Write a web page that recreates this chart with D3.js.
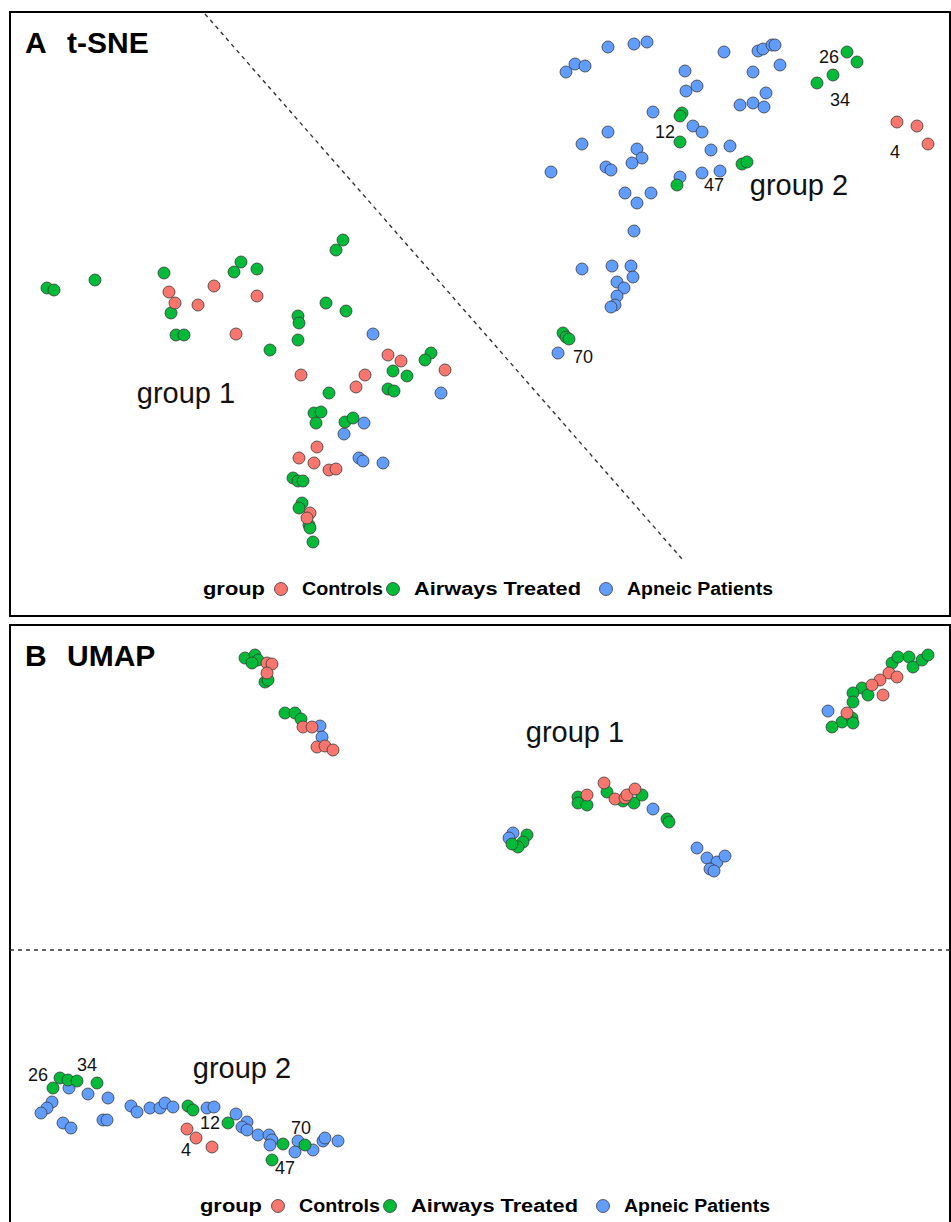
<!DOCTYPE html>
<html>
<head>
<meta charset="utf-8">
<script src="https://cdn.jsdelivr.net/npm/d3@7"></script>
<style>
  body { margin: 0; background: #fff; }
  text { font-family: "Liberation Sans", Arial, sans-serif; }
</style>
</head>
<body>
<div id="chart"></div>
<script>
var width = 951,
    height = 1222;

// groups, legend order
var groups = ["Controls", "Airways Treated", "Apneic Patients"];
var groupColors = ["#F8766D", "#00BA38", "#619CFF"];

// t-SNE embedding (dim1, dim2)
var tsneControls = [[16.9,-29.2],[17.5,-30.3],[19.8,-30.5],[21.4,-28.6],[25.7,-29.6],[23.6,-33.4],[30.1,-37.5],[36.5,-37.5],[35.6,-38.7],[38.8,-35.5],[40.1,-36.1],[44.5,-37.0],[31.7,-44.7],[29.9,-45.8],[31.4,-46.3],[32.9,-47.0],[33.6,-46.9],[31.0,-51.3],[30.7,-51.8],[89.7,-12.2],[91.7,-12.6],[92.8,-14.4]];
var tsneAirways = [[4.7,-28.8],[5.4,-29.0],[9.5,-28.0],[16.4,-27.3],[17.1,-31.3],[17.6,-33.5],[18.4,-33.5],[24.1,-26.2],[23.4,-27.2],[25.7,-26.9],[27.0,-35.0],[34.3,-24.0],[33.6,-25.0],[32.6,-30.3],[34.6,-31.1],[29.8,-31.6],[29.9,-32.3],[29.8,-34.0],[43.1,-35.3],[42.5,-36.0],[39.3,-37.1],[40.7,-37.6],[32.9,-39.3],[38.8,-38.9],[39.4,-39.1],[31.4,-41.3],[32.1,-41.2],[31.6,-42.3],[34.5,-42.2],[35.3,-41.8],[29.3,-47.8],[29.8,-48.1],[30.3,-48.1],[30.2,-50.3],[29.9,-50.8],[30.9,-52.5],[31.0,-52.8],[31.3,-54.2],
  [68.2,-11.3],[68.0,-11.6],[68.0,-14.2],[67.7,-18.5],[74.2,-16.4],[74.7,-16.2],[84.7,-5.2],[85.7,-6.2],[83.3,-7.5],[81.7,-8.3],[56.3,-33.3],[56.6,-33.7],[56.9,-33.9]];
var tsneApneic = [[37.3,-33.4],[44.1,-39.3],[36.4,-42.3],[34.4,-43.4],[35.9,-45.8],[36.3,-46.1],[38.3,-46.3],
  [60.8,-4.7],[63.4,-4.4],[64.7,-4.2],[72.4,-5.2],[56.6,-7.2],[57.5,-6.4],[58.5,-6.6],[68.5,-7.1],[68.6,-9.1],[69.7,-8.6],[65.3,-11.2],[69.3,-12.6],[70.2,-13.2],[60.8,-13.2],[58.2,-14.4],[63.7,-14.9],[64.2,-15.8],[63.2,-16.3],[71.1,-15.0],[73.0,-14.6],[55.1,-17.2],[60.6,-16.7],[61.1,-17.0],[68.0,-17.7],[70.2,-17.3],[72.0,-17.1],[62.5,-19.3],[65.1,-19.3],[63.7,-20.3],[75.8,-5.1],[76.3,-4.9],[77.2,-4.5],[77.5,-4.5],[78.0,-6.5],[75.3,-7.2],[76.6,-9.3],[74.0,-10.5],[75.3,-10.3],[76.4,-10.7],[63.4,-23.1],[58.2,-26.9],[61.2,-26.6],[63.1,-26.6],[63.3,-27.7],[61.7,-28.2],[62.4,-28.8],[61.7,-29.6],[61.5,-30.5],[61.1,-30.7],[55.8,-35.3]];
var tsneIds = [["12",66.5,-13.2],["47",71.4,-18.5],["26",82.9,-5.7],["34",84.0,-10.0],["4",89.5,-15.2],["70",58.3,-35.7]];
var tsneGroupLabels = [["group 1",18.6,-40.3],["group 2",79.9,-19.5]];

// UMAP embedding (dim1, dim2)
var umapControls = [[26.7,-66.3],[27.2,-66.4],[26.7,-67.3],[30.3,-72.7],[31.2,-72.7],[31.7,-74.7],[32.5,-74.6],[33.3,-75.0],
  [88.9,-67.3],[89.7,-67.7],[88.0,-68.0],[87.2,-68.5],[88.3,-69.5],[84.7,-71.3],
  [58.7,-79.5],[60.4,-78.3],[61.5,-79.9],[62.5,-79.8],[62.7,-79.5],[63.5,-78.9],
  [18.7,-112.9],[19.6,-113.8],[21.2,-114.7]];
var umapAirways = [[24.5,-65.8],[25.5,-65.5],[25.8,-66.0],[25.2,-66.3],[26.5,-68.2],[26.8,-68.0],[28.5,-71.3],[29.5,-71.3],[30.1,-71.9],
  [89.2,-66.3],[89.8,-65.7],[90.9,-65.7],[91.3,-66.7],[92.2,-66.0],[92.8,-65.5],[86.2,-68.8],[86.8,-69.5],[85.3,-69.3],[85.3,-70.2],[84.2,-72.2],[85.2,-71.8],[85.3,-72.3],[83.2,-72.7],
  [52.7,-83.5],[52.3,-84.2],[51.8,-84.7],[51.2,-84.4],
  [57.8,-79.7],[57.8,-80.3],[58.7,-80.5],[60.7,-79.2],[62.3,-80.1],[63.4,-80.3],[64.2,-79.5],
  [66.7,-81.9],[66.9,-82.2],
  [5.3,-108.8],[6.0,-107.8],[6.8,-108.0],[7.7,-108.1],[9.7,-108.3],[18.8,-110.6],[19.3,-111.0],[22.8,-112.3],[28.3,-114.4],[30.5,-114.5],[27.2,-116.0]];
var umapApneic = [[32.0,-72.6],[32.2,-73.7],[82.8,-71.1],[51.3,-83.3],[50.9,-83.8],[65.3,-80.9],[69.7,-84.8],[70.7,-85.8],[71.7,-86.2],[72.5,-85.6],[71.0,-86.9],[71.4,-87.1],
  [6.9,-108.8],[8.8,-109.4],[10.8,-109.8],[5.2,-110.2],[4.7,-110.8],[4.1,-111.3],[6.3,-112.3],[7.1,-112.8],[10.3,-112.0],[10.7,-112.0],[13.1,-110.6],[13.7,-111.2],[15.0,-110.8],[16.0,-110.8],[16.5,-110.3],[17.3,-110.7],[20.7,-110.8],[21.4,-110.7],[23.6,-111.4],[24.7,-112.2],[24.2,-112.7],[24.7,-113.0],[25.8,-113.5],[26.9,-113.5],[27.2,-114.0],[27.0,-114.5],[29.8,-114.1],[29.5,-115.2],[31.3,-115.0],[32.3,-114.1],[32.5,-113.8],[33.8,-114.1]];
var umapIds = [["26",3.8,-107.5],["34",8.7,-106.5],["12",21.0,-112.3],["4",18.6,-115.0],["70",30.1,-112.8],["47",28.5,-116.8]];
var umapGroupLabels = [["group 1",57.5,-74.2],["group 2",24.2,-107.8]];

var svg = d3.select("#chart").append("svg")
    .attr("width", width)
    .attr("height", height)
    .style("display", "block");

svg.append("rect").attr("width", width).attr("height", height).attr("fill", "#fff");

/*
-----------------PANEL HELPER-----------------
*/
function drawPanel(p) {
  var x = d3.scaleLinear().domain(p.xDomain).range([p.left, p.right]);
  var y = d3.scaleLinear().domain(p.yDomain).range([p.top, p.bottom]);

  var g = svg.append("g");

  g.append("rect")
    .attr("x", p.left).attr("y", p.top)
    .attr("width", p.right - p.left).attr("height", p.bottom - p.top)
    .attr("fill", "none").attr("stroke", "#000").attr("stroke-width", 2);

  // dashed separator
  g.append("line")
    .attr("x1", x(p.split[0][0])).attr("y1", y(p.split[0][1]))
    .attr("x2", x(p.split[1][0])).attr("y2", y(p.split[1][1]))
    .attr("stroke", "#333").attr("stroke-width", 1.4)
    .attr("stroke-dasharray", "4,4");

  // panel letter + method
  g.append("text").attr("x", p.left + 15).attr("y", p.top + 41)
    .attr("font-size", 30).attr("font-weight", "bold").text(p.letter);
  g.append("text").attr("x", p.left + 57).attr("y", p.top + 41)
    .attr("font-size", 30).attr("font-weight", "bold").text(p.method);

  // points, blue first so red / green sit on top
  [[p.apneic, 2], [p.airways, 1], [p.controls, 0]].forEach(function(s) {
    g.selectAll(null)
      .data(s[0])
      .enter().append("circle")
      .attr("cx", function(d) { return x(d[0]); })
      .attr("cy", function(d) { return y(d[1]); })
      .attr("r", 6)
      .attr("fill", groupColors[s[1]])
      .attr("stroke", "#3a3a3a")
      .attr("stroke-width", 0.8);
  });

  g.selectAll(null)
    .data(p.groupLabels)
    .enter().append("text")
    .attr("x", function(d) { return x(d[1]); })
    .attr("y", function(d) { return y(d[2]); })
    .attr("text-anchor", "middle")
    .attr("font-size", 29)
    .attr("fill", "#111")
    .text(function(d) { return d[0]; });

  g.selectAll(null)
    .data(p.ids)
    .enter().append("text")
    .attr("x", function(d) { return x(d[1]); })
    .attr("y", function(d) { return y(d[2]); })
    .attr("text-anchor", "middle")
    .attr("dy", "0.35em")
    .attr("font-size", 18)
    .attr("fill", "#111")
    .text(function(d) { return d[0]; });

  // legend
  var leg = g.append("g").attr("transform", "translate(" + p.legendX + "," + p.legendY + ")");
  leg.append("text").attr("x", 0).attr("y", 6)
    .attr("font-size", 18).attr("font-weight", "bold")
    .attr("textLength", 62).attr("lengthAdjust", "spacingAndGlyphs")
    .text("group");
  var offs = [78, 190, 403];
  var lens = [81, 167, 146];
  groups.forEach(function(name, i) {
    leg.append("circle").attr("cx", offs[i]).attr("cy", 0).attr("r", 6.5)
      .attr("fill", groupColors[i]).attr("stroke", "#3a3a3a").attr("stroke-width", 0.8);
    leg.append("text").attr("x", offs[i] + 21).attr("y", 6)
      .attr("font-size", 18).attr("font-weight", "bold")
      .attr("textLength", lens[i]).attr("lengthAdjust", "spacingAndGlyphs")
      .text(name);
  });
}

drawPanel({
  letter: "A", method: "t-SNE",
  left: 10, right: 950, top: 12, bottom: 616,
  xDomain: [1.0, 95.0], yDomain: [-1.2, -61.6],
  controls: tsneControls, airways: tsneAirways, apneic: tsneApneic,
  ids: tsneIds, groupLabels: tsneGroupLabels,
  split: [[20.5, -1.4], [68.3, -56.0]],
  legendX: 203, legendY: 589
});

drawPanel({
  letter: "B", method: "UMAP",
  left: 10, right: 950, top: 625, bottom: 1230,
  xDomain: [1.0, 95.0], yDomain: [-62.5, -123.0],
  controls: umapControls, airways: umapAirways, apneic: umapApneic,
  ids: umapIds, groupLabels: umapGroupLabels,
  split: [[1.0, -95.0], [95.0, -95.0]],
  legendX: 200, legendY: 1206
});
</script>
</body>
</html>
